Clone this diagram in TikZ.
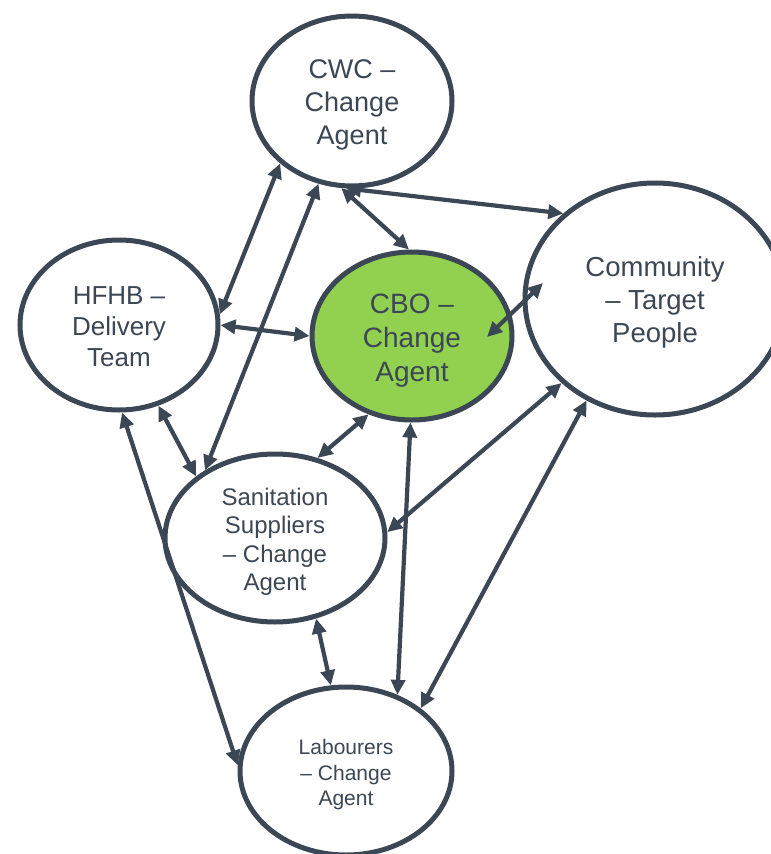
\documentclass[tikz,border=0pt]{standalone}
\usepackage{fontspec}
\setmainfont{Liberation Sans}
\usetikzlibrary{arrows.meta,shapes.geometric,calc}
\definecolor{ink}{HTML}{3B4754}
\definecolor{cbogreen}{HTML}{92D050}
\begin{document}
\begin{tikzpicture}[x=1pt,y=-1pt,
  agent/.style={ellipse,draw=ink,line width=5pt,fill=white,inner sep=0pt},
  caption/.style={align=center,text=ink,inner sep=0pt},
  link/.style={draw=ink,line width=4.2pt,
    {Triangle[length=15pt,width=14pt]}-{Triangle[length=15pt,width=14pt]}},
]
\clip (0,0) rectangle (771,854);

% actors
\node[agent,minimum width=200pt,minimum height=170pt] (cwc) at (352,101) {};
\node[agent,minimum width=198pt,minimum height=170pt] (hfhb) at (119,325) {};
\node[agent,fill=cbogreen,minimum width=200pt,minimum height=168pt] (cbo) at (412,336) {};
\node[agent,minimum width=260pt,minimum height=232pt] (comm) at (655,299) {};
\node[agent,minimum width=220pt,minimum height=168pt] (san) at (275,538) {};
\node[agent,minimum width=212pt,minimum height=168pt] (lab) at (346,771) {};

% their names
\node[caption,font=\fontsize{27}{33}\selectfont] (cwcT)
  at ([yshift=-4pt]cwc.center) {CWC –\\Change\\Agent};
\node[caption,font=\fontsize{26}{31}\selectfont] (hfhbT)
  at ([yshift=-2pt]hfhb.center) {HFHB –\\Delivery\\Team};
\node[caption,font=\fontsize{28}{34}\selectfont] (cboT)
  at ([yshift=-5pt]cbo.center) {CBO –\\Change\\Agent};
\node[caption,font=\fontsize{27.5}{33}\selectfont] (commT)
  at ([yshift=-3pt]comm.center) {Community\\– Target\\People};
\node[caption,font=\fontsize{24}{28.5}\selectfont] (sanT)
  at ([yshift=-4pt]san.center) {Sanitation\\Suppliers\\– Change\\Agent};
\node[caption,font=\fontsize{21}{25.5}\selectfont] (labT)
  at ([yshift=-4pt]lab.center) {Labourers\\– Change\\Agent};

% two-way relations
\draw[link] (cwc.221) -- (hfhb.6);
\draw[link] (cwc.248) -- (san.136);
\draw[link] (cwc.263) -- (cbo.92);
\draw[link] (cwc.266) -- (comm.137);
\draw[link] (hfhb.0) -- (cbo.180);
\draw[link] ($(cbo.center)+(75,1)$) -- ($(comm.center)+(-112,-16)$);
\draw[link] (hfhb.296) -- (san.142);
\draw[link] (hfhb.272) -- (lab.177);
\draw[link] (cbo.241) -- (san.62);
\draw[link] (comm.222) -- (san.3);
\draw[link] (cbo.269) -- (lab.56);
\draw[link] (comm.236) -- (lab.40);
\draw[link] (san.297) -- (lab.100);
\end{tikzpicture}
\end{document}
